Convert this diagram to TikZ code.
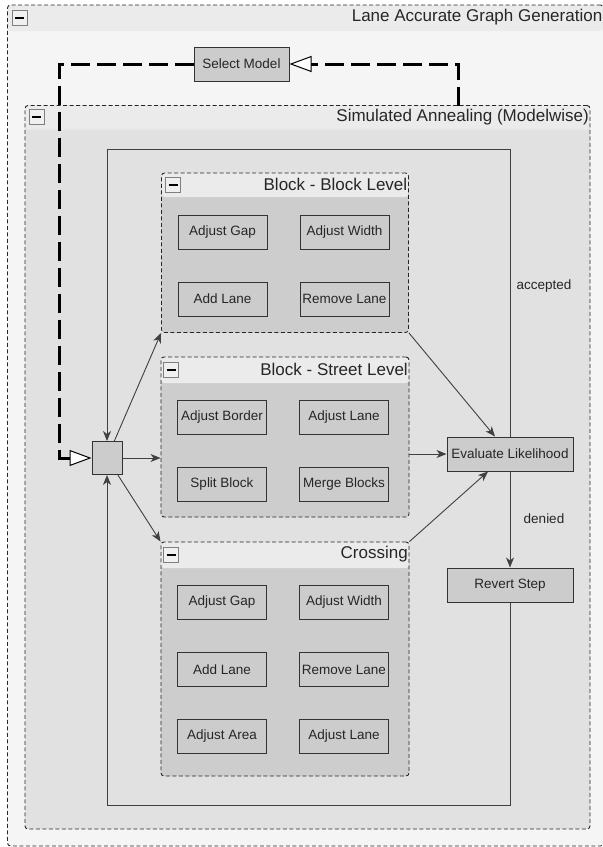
\documentclass[tikz,border=0pt]{standalone}
\usepackage{fontspec}
\setmainfont{Liberation Sans}
\usetikzlibrary{arrows.meta,calc,fit}
\definecolor{outerbody}{HTML}{F5F5F5}
\definecolor{titlecol}{HTML}{EBEBEB}
\definecolor{sabody}{HTML}{E1E1E1}
\definecolor{blkbody}{HTML}{CDCDCD}
\definecolor{boxfill}{HTML}{CCCCCC}
\definecolor{linecol}{HTML}{333333}
\definecolor{looplinecol}{HTML}{404040}
\definecolor{btnborder}{HTML}{7F7F7F}
\definecolor{btnfill}{HTML}{F0F0F0}
\tikzset{
 cont/.style={draw=black!85, line width=0.9pt, dash pattern=on 4pt off 2.5pt, rounded corners=3pt, inner sep=0pt},
 btn/.style={draw=btnborder, fill=btnfill, line width=0.8pt, minimum width=15pt, minimum height=15pt, inner sep=0pt, font=\fontsize{2}{2}\selectfont},
 ttl/.style={font=\fontsize{17}{19}\selectfont, text=black!85, inner sep=0pt},
 opbox/.style={draw=linecol, fill=boxfill, line width=1pt, minimum width=89pt, minimum height=34pt, inner sep=0pt, font=\fontsize{13.5}{15}\selectfont, text=black!85},
 widebox/.style={opbox, minimum width=126pt},
 flow/.style={draw=looplinecol, line width=0.9pt, -{Stealth[length=10pt,width=8pt,inset=3pt]}},
 modelline/.style={draw=black, line width=3pt, dash pattern=on 19pt off 7pt, -{Triangle[length=22pt,width=16pt,fill=white,line width=1pt]}},
 lbl/.style={font=\fontsize{13.5}{15}\selectfont, text=black!85, inner sep=0pt},
}
\newcommand\mkcont[9]{%
  \node[cont, fill=#6, fit={(#2,#3) (#4,#5)},
    path picture={\fill[titlecol] (path picture bounding box.north west) rectangle ($(path picture bounding box.north east)+(0,#7)$);}] (#1) {};
  \node[btn] (#1-btn) at ($(#1.north west)+(#9,#7/2)$) {\rule{9pt}{2pt}};
  \node[ttl, anchor=east] (#1-title) at ($(#1.north east)+(-1.5,#7/2)$) {#8};
}
\begin{document}
\begin{tikzpicture}[x=1pt,y=-1pt]
\useasboundingbox (0,0) rectangle (603,847);
% containers
\mkcont{outer}{7.5}{5}{603.5}{846}{outerbody}{26}{Lane Accurate Graph Generation}{12.5}
\mkcont{sa}{25}{105.5}{590}{829}{sabody}{24}{Simulated Annealing (Modelwise)}{12}
\mkcont{bb}{161.5}{173}{408.5}{332.5}{blkbody}{24}{Block - Block Level}{12}
\mkcont{bs}{161}{357}{409}{517}{blkbody}{26}{Block - Street Level}{10.5}
\mkcont{cr}{161}{542}{409}{776}{blkbody}{26}{Crossing}{10.5}
% block - block
\node[opbox] (bb1) at (222.5,232) {Adjust Gap};
\node[opbox] (bb2) at (344.5,232) {Adjust Width};
\node[opbox] (bb3) at (222.5,299) {Add Lane};
\node[opbox] (bb4) at (344.5,299) {Remove Lane};
% block - street
\node[opbox] (bs1) at (222,417) {Adjust Border};
\node[opbox] (bs2) at (344,417) {Adjust Lane};
\node[opbox] (bs3) at (222,484) {Split Block};
\node[opbox] (bs4) at (344,484) {Merge Blocks};
% crossing
\node[opbox] (cr1) at (222,602) {Adjust Gap};
\node[opbox] (cr2) at (344,602) {Adjust Width};
\node[opbox] (cr3) at (222,669.5) {Add Lane};
\node[opbox] (cr4) at (344,669.5) {Remove Lane};
\node[opbox] (cr5) at (222,736) {Adjust Area};
\node[opbox] (cr6) at (344,736) {Adjust Lane};
% other nodes
\node[widebox] (eval) at (510,454) {Evaluate Likelihood};
\node[widebox] (revert) at (510,585) {Revert Step};
\node[opbox, minimum width=95pt] (smodel) at (241.5,64) {Select Model};
\node[draw=linecol, fill=boxfill, line width=1pt, minimum width=30pt, minimum height=33pt, inner sep=0pt] (junc) at (107,458) {};
\node[lbl] (acc) at (544,286) {accepted};
\node[lbl] (den) at (544,519) {denied};
% coordinates
\coordinate (ltl) at (107,149);
\coordinate (lbl) at (107,805);
\coordinate (dl) at (59,458);
\coordinate (dr) at (458,106);
% loop
\draw[flow] (eval.north) |- (ltl) -- (junc.north);
\draw[flow] (revert.south) |- (lbl) -- (junc.south);
% fan out
\draw[flow] (junc) -- (bb.south west);
\draw[flow] (junc.east) -- (junc.east -| bs.west);
\draw[flow] (junc) -- (cr.north west);
% into evaluate
\draw[flow] (bb.south east) -- ([xshift=-15pt]eval.north);
\draw[flow] (bs.east |- eval.west) -- (eval.west);
\draw[flow] (cr.north east) -- ([xshift=-22pt]eval.south);
\draw[flow] (eval.south) -- (revert.north);
% model selection
\draw[modelline] (smodel.west) -| (dl) -- (junc.west);
\draw[modelline] (dr) |- (smodel.east);
\end{tikzpicture}
\end{document}
